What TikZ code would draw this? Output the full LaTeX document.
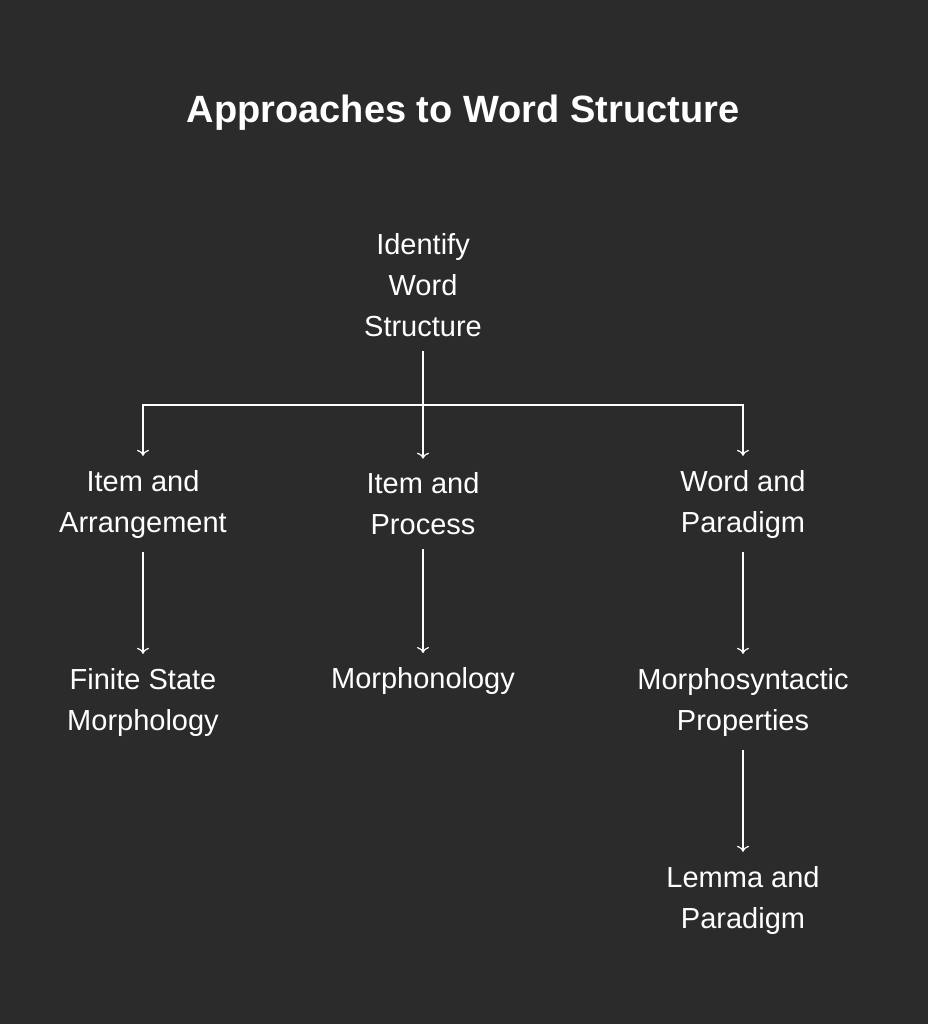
\documentclass[tikz,border=0pt]{standalone}
\usepackage{fontspec}
\setmainfont{Liberation Sans}
\usetikzlibrary{arrows.meta}
\definecolor{bg}{HTML}{2B2B2B}
\begin{document}
\begin{tikzpicture}[x=1pt,y=-1pt,
  lbl/.style={text=white,align=center,font=\fontsize{29}{41}\selectfont,inner xsep=4pt,inner ysep=14pt},
  conn/.style={draw=white,line width=1.2pt},
  arr/.style={conn,-{To[length=6pt,width=12pt]}}]
\fill[bg] (0,0) rectangle (928,1024);
\node[text=white,font=\fontsize{38}{46}\selectfont\bfseries] (title) at (463,113) {Approaches to Word Structure};
\node[lbl] (root) at (423,285) {Identify\\Word\\Structure};
\node[lbl] (ia) at (143,504) {Item and\\Arrangement};
\node[lbl] (ip) at (423,504) {Item and\\Process};
\node[lbl] (wp) at (743,504) {Word and\\Paradigm};
\node[lbl] (fsm) at (143,702) {Finite State\\Morphology};
\node[lbl,anchor=north] (mph) at (423,653) {Morphonology};
\node[lbl] (msp) at (743,702) {Morphosyntactic\\Properties};
\node[lbl] (lp) at (743,900) {Lemma and\\Paradigm};
\coordinate (j) at (423,405);
\draw[conn] (root) -- (j);
\draw[arr] (j) -| (ia);
\draw[arr] (j) -- (ip);
\draw[arr] (j) -| (wp);
\draw[arr] (ia) -- (fsm);
\draw[arr] (ip) -- (mph);
\draw[arr] (wp) -- (msp);
\draw[arr] (msp) -- (lp);
\end{tikzpicture}
\end{document}
